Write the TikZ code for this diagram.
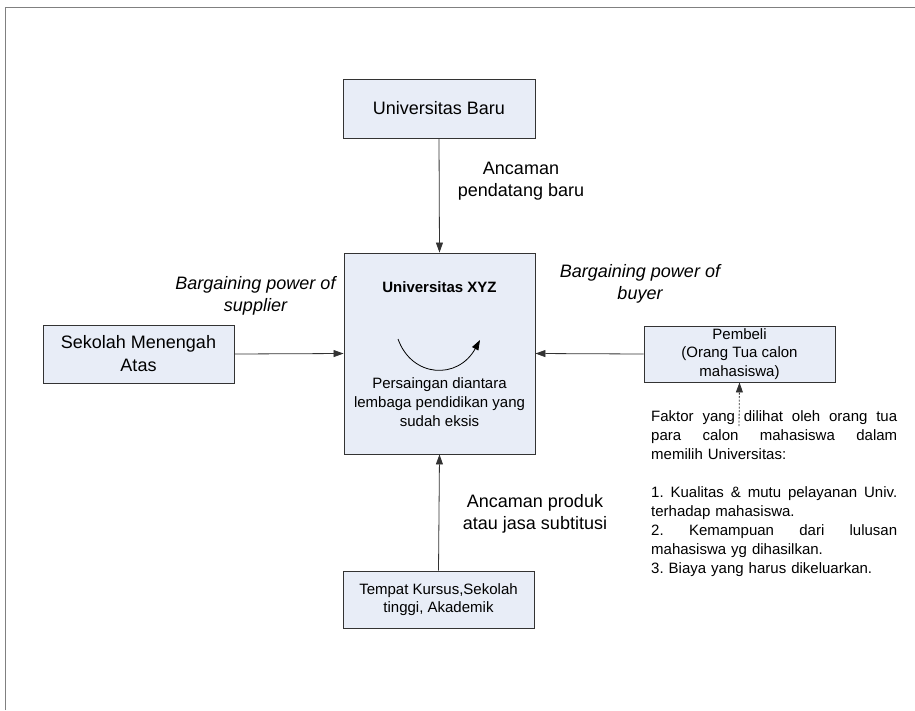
\documentclass[tikz,border=0pt]{standalone}
\usepackage{fontspec}
\setmainfont{Liberation Sans}
\usetikzlibrary{arrows.meta}
\definecolor{boxfill}{HTML}{E8EDF7}
\definecolor{boxline}{HTML}{333333}
\newcommand\jline[1]{\hbox to 246pt{\spaceskip=4pt plus 1fil\relax #1}}
\begin{document}
\frenchspacing
\begin{tikzpicture}[x=1pt,y=-1pt,
  box/.style={draw=boxline,line width=0.9pt,fill=boxfill,inner sep=0pt,align=center},
  conn/.style={draw=black!80,line width=0.8pt,-{Triangle[length=10pt,width=7pt]}},
  lbl/.style={inner sep=0pt,align=center,font=\fontsize{18}{22}\selectfont},
  ilbl/.style={lbl,font=\fontsize{18}{22}\selectfont\itshape}
]
\useasboundingbox (0,0) rectangle (915,710);
\draw[gray,line width=0.8pt] (5,710) -- (5,7) -- (915,7);

\node[box,minimum width=192pt,minimum height=59pt,font=\fontsize{18}{22}\selectfont] (ubaru) at (439,108.5) {Universitas Baru};
\node[box,minimum width=191pt,minimum height=201pt] (xyz) at (439.5,353.5) {};
\node[box,minimum width=191pt,minimum height=58pt,font=\fontsize{18}{23}\selectfont] (sma) at (138.5,354) {Sekolah Menengah\\Atas};
\node[box,minimum width=191pt,minimum height=56pt,font=\fontsize{15}{18.5}\selectfont] (pembeli) at (739.5,354) {Pembeli\\(Orang Tua calon\\mahasiswa)};
\node[box,minimum width=191pt,minimum height=57pt,font=\fontsize{15}{18}\selectfont] (tempat) at (438.5,599.5) {Tempat Kursus,Sekolah\\tinggi, Akademik};

\node[inner sep=0pt,font=\fontsize{15}{18}\selectfont\bfseries] (xyztitle) at (439.5,287) {Universitas XYZ};
\node[inner sep=0pt,align=center,font=\fontsize{15}{19}\selectfont] (xyzbody) at (439.5,402) {Persaingan diantara\\lembaga pendidikan yang\\sudah eksis};
\coordinate (cva) at (398,339);
\coordinate (cvb) at (480,340);
\draw[black,line width=0.8pt,-{Triangle[length=10pt,width=7pt]}] (cva) .. controls (412,378) and (458,380) .. (cvb);

\node[lbl] (lnew) at (521,181) {Ancaman\\pendatang baru};
\node[ilbl] (lsup) at (255.5,296) {Bargaining power of\\supplier};
\node[ilbl] (lbuy) at (640,284) {Bargaining power of\\buyer};
\node[lbl] (lsub) at (535,513.5) {Ancaman produk\\atau jasa subtitusi};

\draw[conn] (ubaru.south) -- (xyz.north);
\draw[conn] (sma.east) -- (xyz.west);
\draw[conn] (pembeli.west) -- (xyz.east);
\draw[conn] (tempat.north) -- (xyz.south);

\node[inner sep=0pt,anchor=north west,text width=246pt,font=\fontsize{15}{19}\selectfont] (faktor) at (651,410) {%
\jline{Faktor yang dilihat oleh orang tua}
\jline{para calon mahasiswa dalam}
\hbox{memilih Universitas:}
\vskip 19pt
\jline{1. Kualitas \& mutu pelayanan Univ.}
\hbox{terhadap mahasiswa.}
\jline{2. Kemampuan dari lulusan}
\hbox{mahasiswa yg dihasilkan.}
\hbox{3. Biaya yang harus dikeluarkan.}};
\coordinate (dstart) at (739,426);
\draw[black!80,line width=0.8pt,dashed,dash pattern=on 2pt off 1.5pt,-{Triangle[length=10pt,width=7pt]}] (dstart) -- (pembeli.south);
\end{tikzpicture}
\end{document}
